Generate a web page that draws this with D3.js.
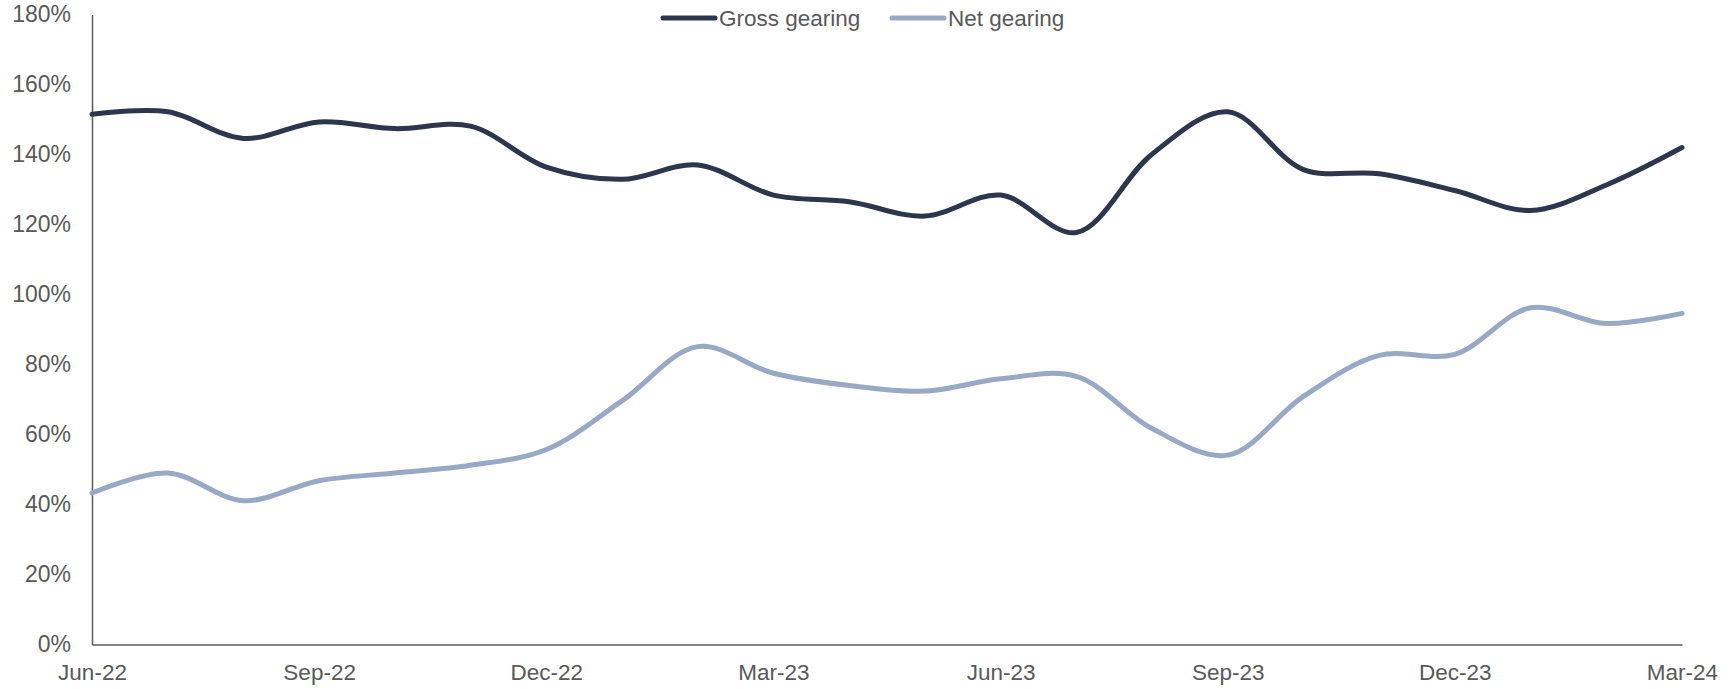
<!DOCTYPE html>
<html>
<head>
<meta charset="utf-8">
<script src="https://cdn.jsdelivr.net/npm/d3@7"></script>
<style>
  html, body { margin: 0; padding: 0; background: #fff; }
  svg { display: block; }
  text { font-family: "Liberation Sans", Arial, sans-serif; fill: #595959; }
</style>
</head>
<body>
<svg id="chart" width="1736" height="689"></svg>
<script>
const months = ["Jun-22","Jul-22","Aug-22","Sep-22","Oct-22","Nov-22","Dec-22","Jan-23","Feb-23","Mar-23","Apr-23","May-23","Jun-23","Jul-23","Aug-23","Sep-23","Oct-23","Nov-23","Dec-23","Jan-24","Feb-24","Mar-24"];
const tickLabels = ["Jun-22","Sep-22","Dec-22","Mar-23","Jun-23","Sep-23","Dec-23","Mar-24"];
const grossGearing = [151.5,152.2,144.6,149.3,147.4,148.1,136.4,132.9,137.0,128.4,126.5,122.4,128.4,117.7,140.1,152.2,135.7,134.5,129.7,124.0,131.3,142.0];
const netGearing = [43.3,49.0,41.1,46.8,49.0,51.2,55.7,69.6,85.1,77.5,74.0,72.4,75.9,76.6,61.7,54.1,70.9,82.6,82.9,96.2,91.7,94.6];
const yTicks = [0,20,40,60,80,100,120,140,160,180];
const seriesNames = ["Gross gearing","Net gearing"];
const seriesColors = ["#2c374d","#98a9c6"];

const svg = d3.select("#chart");
const mLeft = 92, mRight = 1682, mTop = 14.5, mBottom = 644.5;

const x = d3.scalePoint().domain(months).range([mLeft, mRight]);
const y = d3.scaleLinear().domain([0,180]).range([mBottom, mTop]);

const fontFam = "'Liberation Sans', Arial, sans-serif";

// Y axis
const yAxis = d3.axisLeft(y).tickValues(yTicks).tickFormat(d => d + "%").tickSize(0).tickPadding(21);
const gy = svg.append("g").attr("transform", `translate(${mLeft},0)`).call(yAxis);
gy.select(".domain").attr("stroke", "#595959").attr("stroke-width", 1.5);
gy.selectAll("text").style("font-size", "23px").attr("fill", "#595959").style("font-family", fontFam);

// X axis
const xAxis = d3.axisBottom(x).tickValues(tickLabels).tickSize(0).tickPadding(20);
const gx = svg.append("g").attr("transform", `translate(0,${mBottom})`).call(xAxis);
gx.select(".domain").attr("stroke", "#595959").attr("stroke-width", 1.5);
gx.selectAll("text").style("font-size", "22.5px").attr("fill", "#595959").style("font-family", fontFam);

const line = d3.line()
  .x((d, i) => x(months[i]))
  .y(d => y(d))
  .curve(d3.curveCatmullRom.alpha(0.5));

[grossGearing, netGearing].forEach((data, k) => {
  svg.append("path")
    .datum(data)
    .attr("d", line)
    .attr("fill", "none")
    .attr("stroke", seriesColors[k])
    .attr("stroke-width", 5)
    .attr("stroke-linecap", "round")
    .attr("stroke-linejoin", "round");
});

// Legend
const legendX = [663, 892];
seriesNames.forEach((name, k) => {
  const g = svg.append("g").attr("transform", `translate(${legendX[k]},18)`);
  g.append("line").attr("x1", 0).attr("x2", 52).attr("y1", 0).attr("y2", 0)
    .attr("stroke", seriesColors[k]).attr("stroke-width", 5).attr("stroke-linecap", "round");
  g.append("text").attr("x", 56).attr("y", 0).attr("dy", "0.35em")
    .style("font-size", "22.5px").style("font-family", fontFam).text(name);
});
</script>
</body>
</html>
